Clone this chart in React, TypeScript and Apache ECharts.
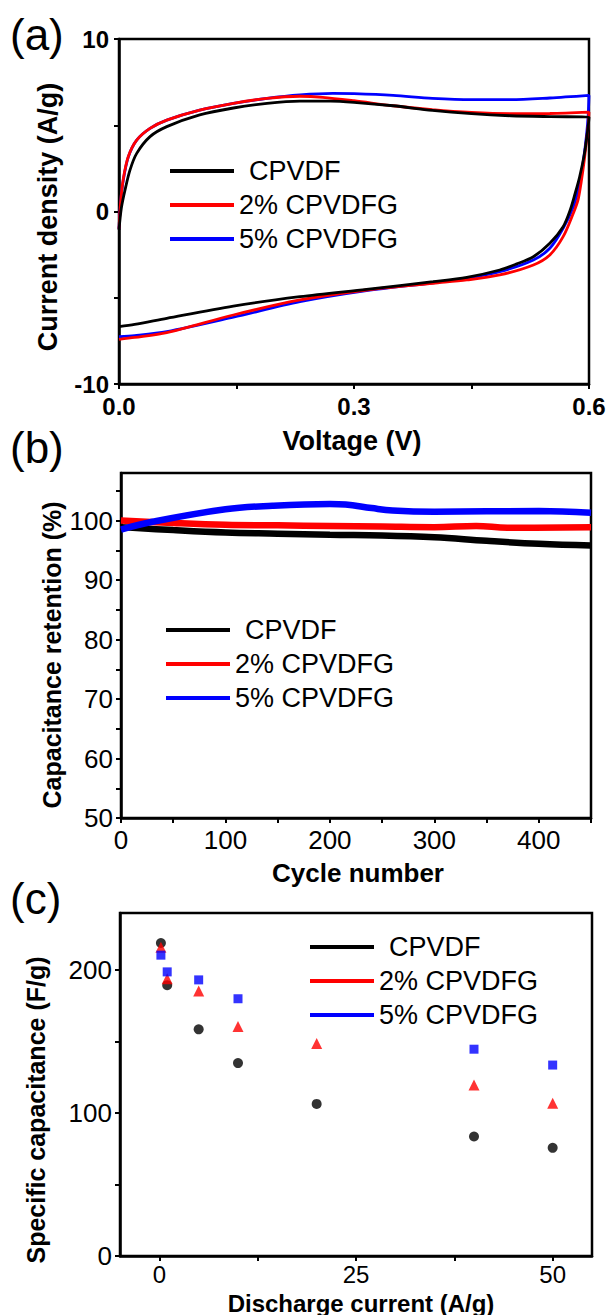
import { useEffect, useRef } from "react";
import * as echarts from "echarts";

const NAMES = ["CPVDF", "2% CPVDFG", "5% CPVDFG"];
const COLORS = ["#000000", "#ff0000", "#0000ff"];

// ---------- (a) CV curves: [voltage V, current density A/g] ----------
const cvUpCPVDF: [number, number][] = [
  [0, -1.06], [0.003, 0.2], [0.0077, 1.25], [0.014, 2.4], [0.0226, 3.37], [0.0396, 4.34],
  [0.061, 4.92], [0.103, 5.6], [0.146, 6.0], [0.189, 6.27], [0.231, 6.4], [0.27, 6.4],
  [0.3, 6.33], [0.35, 6.13], [0.4, 5.86], [0.45, 5.67], [0.5, 5.55], [0.55, 5.5], [0.6, 5.47],
];
const cvDownCPVDF: [number, number][] = [
  [0.598, 4.6], [0.594, 3.3], [0.588, 2.0], [0.582, 1.0], [0.576, 0.09], [0.567, -0.88],
  [0.55, -1.84], [0.529, -2.62], [0.507, -3.05], [0.486, -3.39], [0.444, -3.82], [0.401, -4.07],
  [0.316, -4.51], [0.231, -4.94], [0.146, -5.48], [0.061, -6.19], [0.02, -6.55], [0, -6.68],
];
const cvUp2: [number, number][] = [
  [0, -1.0], [0.002, 0.5], [0.0055, 1.9], [0.012, 3.2], [0.0226, 4.14], [0.0396, 4.82],
  [0.061, 5.3], [0.103, 5.88], [0.146, 6.27], [0.189, 6.56], [0.231, 6.68], [0.26, 6.62],
  [0.3, 6.42], [0.35, 6.13], [0.4, 5.9], [0.45, 5.74], [0.5, 5.67], [0.55, 5.68], [0.6, 5.76],
];
const cvDown2: [number, number][] = [
  [0.599, 5.0], [0.597, 4.2], [0.594, 3.0], [0.59, 1.7], [0.586, 0.67], [0.58, -0.1],
  [0.567, -1.46], [0.55, -2.52], [0.529, -3.1], [0.486, -3.68], [0.444, -3.97], [0.401, -4.16],
  [0.316, -4.55], [0.231, -5.13], [0.146, -6.0], [0.061, -7.02], [0.02, -7.3], [0, -7.41],
];
const cvUp5: [number, number][] = [
  [0, -1.0], [0.002, 0.5], [0.0055, 1.83], [0.012, 3.18], [0.0226, 4.14], [0.0396, 4.82],
  [0.061, 5.3], [0.103, 5.88], [0.146, 6.27], [0.189, 6.56], [0.231, 6.76], [0.273, 6.85],
  [0.3, 6.83], [0.35, 6.73], [0.4, 6.56], [0.45, 6.48], [0.5, 6.48], [0.55, 6.58], [0.6, 6.73],
];
const cvDown5: [number, number][] = [
  [0.599, 5.6], [0.597, 4.5], [0.593, 3.0], [0.588, 1.6], [0.58, 0.28], [0.567, -0.97],
  [0.55, -2.13], [0.529, -2.81], [0.486, -3.49], [0.444, -3.87], [0.401, -4.13], [0.316, -4.59],
  [0.231, -5.23], [0.146, -6.13], [0.061, -6.97], [0.02, -7.2], [0, -7.26],
];

// ---------- (b) cycling: [cycle, retention %] ----------
const cycCPVDF: [number, number][] = [
  [0, 98.9], [50, 98.4], [100, 98.0], [150, 97.8], [200, 97.6], [250, 97.5],
  [300, 97.2], [350, 96.6], [400, 96.1], [450, 95.8],
];
const cyc2: [number, number][] = [
  [0, 100], [50, 99.6], [100, 99.3], [150, 99.2], [200, 99.1], [250, 99.0],
  [300, 98.9], [340, 99.1], [370, 98.8], [450, 98.9],
];
const cyc5: [number, number][] = [
  [0, 98.5], [30, 99.8], [100, 101.9], [145, 102.5], [200, 102.8], [215, 102.7],
  [240, 102.1], [260, 101.7], [300, 101.5], [400, 101.6], [450, 101.3],
];

// ---------- (c) rate: [discharge current A/g, specific capacitance F/g] ----------
const rateCPVDF: [number, number][] = [
  [0.2, 219], [1, 189.5], [5, 158.6], [10, 135], [20, 106.4], [40, 83.6], [50, 75.7],
];
const rate2: [number, number][] = [
  [0.2, 216], [1, 194], [5, 185.4], [10, 160.5], [20, 148.7], [40, 119.6], [50, 106.8],
];
const rate5: [number, number][] = [
  [0.2, 210.5], [1, 198.8], [5, 193.2], [10, 180], [40, 144.7], [50, 133.6],
];

// ---------- axes ticks ----------
const aXTicks = [0, 0.15, 0.3, 0.45, 0.6];
const aXLabels = [0, 0.3, 0.6];
const aYTicks = [-10, -5, 0, 5, 10];
const aYLabels = [-10, 0, 10];
const bXTicks = [0, 50, 100, 150, 200, 250, 300, 350, 400, 450];
const bXLabels = [0, 100, 200, 300, 400];
const bYTicks = [50, 55, 60, 65, 70, 75, 80, 85, 90, 95, 100, 105];
const bYLabels = [50, 60, 70, 80, 90, 100];
const cXTicks = [0, 12.5, 25, 37.5, 50];
const cXLabels = [0, 25, 50];
const cYTicks = [0, 50, 100, 150, 200];
const cYLabels = [0, 100, 200];

const FONT = "'Liberation Sans', Arial, Helvetica, sans-serif";

function axis(
  kind: "x" | "y",
  grid: number,
  min: number,
  max: number,
  ticks: number[],
  labels: number[],
  labelSize: number,
  bold: boolean,
  margin: number,
  fmt?: (v: number) => string
) {
  return {
    type: "value",
    gridIndex: grid,
    min,
    max,
    axisLine: { show: true, onZero: false, lineStyle: { color: "#000", width: 2.5 } },
    axisTick: {
      show: true,
      inside: false,
      length: 5,
      lineStyle: { color: "#000", width: 2 },
      customValues: ticks,
    },
    axisLabel: {
      show: true,
      customValues: labels,
      color: "#000",
      fontSize: labelSize,
      fontWeight: bold ? "bold" : "normal",
      fontFamily: FONT,
      margin,
      formatter: fmt ? (v: number) => fmt(v) : (v: number) => String(v),
    },
    splitLine: { show: false },
    ...(kind === "x" ? { position: "bottom" } : { position: "left" }),
  };
}

function legendFor(left: number, top: number, size: number) {
  return {
    orient: "vertical",
    left,
    top,
    padding: 0,
    itemWidth: 64,
    itemHeight: 4,
    itemGap: 0,
    selectedMode: false,
    textStyle: {
      fontSize: size,
      fontFamily: FONT,
      color: "#000",
      lineHeight: 34,
      rich: {
        t: { fontSize: size, fontFamily: FONT, color: "#000", padding: [0, 0, 0, 10], lineHeight: 34 },
      },
    },
    formatter: (n: string) => (n === "CPVDF" ? `{t|${n}}` : n),
    data: NAMES.map((n, i) => ({ name: n, icon: "rect", itemStyle: { color: COLORS[i] } })),
  };
}

function titleText(text: string, x: number, y: number, size: number, vertical: boolean) {
  return {
    type: "text",
    x,
    y,
    rotation: vertical ? Math.PI / 2 : 0,
    style: {
      text,
      fill: "#000",
      font: `bold ${size}px ${FONT}`,
      textAlign: "center",
      textVerticalAlign: "middle",
    },
  };
}

function letter(text: string, x: number, y: number) {
  return {
    type: "text",
    x,
    y,
    style: { text, fill: "#000", font: `44px ${FONT}`, textAlign: "left", textVerticalAlign: "middle" },
  };
}

export default function App() {
  const ref = useRef<HTMLDivElement>(null);
  useEffect(() => {
    if (!ref.current) return;
    const chart = echarts.init(ref.current, undefined, { renderer: "svg" });
    const gridBase = { show: true, borderColor: "#000", borderWidth: 2.5, containLabel: false };
    const cvSeries = [
      [...cvUpCPVDF, ...cvDownCPVDF],
      [...cvUp2, ...cvDown2],
      [...cvUp5, ...cvDown5],
    ];
    const cycSeries = [cycCPVDF, cyc2, cyc5];
    const rateSeries = [rateCPVDF, rate2, rate5];
    const symbols = ["circle", "triangle", "rect"];
    const symSizes = [10, 11, 9];

    const option: any = {
      animation: false,
      backgroundColor: "#fff",
      grid: [
        { ...gridBase, left: 119, top: 39, width: 470, height: 345 },
        { ...gridBase, left: 121, top: 473, width: 470, height: 345 },
        { ...gridBase, left: 120, top: 913, width: 472, height: 343 },
      ],
      xAxis: [
        axis("x", 0, 0, 0.6, aXTicks, aXLabels, 24, true, 10, (v) => v.toFixed(1)),
        axis("x", 1, 0, 450, bXTicks, bXLabels, 26, false, 9),
        axis("x", 2, -5, 55, cXTicks, cXLabels, 24, false, 6),
      ],
      yAxis: [
        axis("y", 0, -10, 10, aYTicks, aYLabels, 24, true, 10),
        axis("y", 1, 50, 108, bYTicks, bYLabels, 26, false, 8),
        axis("y", 2, 0, 240, cYTicks, cYLabels, 26, false, 8),
      ],
      legend: [legendFor(170, 154, 27), legendFor(166, 613, 27), legendFor(310, 930, 27)],
      graphic: [
        letter("(a)", 10, 34),
        letter("(b)", 10, 447),
        letter("(c)", 10, 898),
        titleText("Current density (A/g)", 48, 217, 27, true),
        titleText("Voltage (V)", 352, 441, 27, false),
        titleText("Capacitance retention (%)", 52, 655, 25, true),
        titleText("Cycle number", 358, 873, 26, false),
        titleText("Specific capacitance (F/g)", 36, 1110, 25, true),
        titleText("Discharge current (A/g)", 361, 1303, 24, false),
      ],
      series: [
        ...cvSeries.map((d, i) => ({
          type: "line",
          name: NAMES[i],
          xAxisIndex: 0,
          yAxisIndex: 0,
          data: d,
          smooth: 0.3,
          showSymbol: false,
          lineStyle: { color: COLORS[i], width: 2.8 },
          itemStyle: { color: COLORS[i] },
          z: 3 - i,
        })),
        ...cycSeries.map((d, i) => ({
          type: "line",
          name: NAMES[i],
          xAxisIndex: 1,
          yAxisIndex: 1,
          data: d,
          smooth: 0.4,
          showSymbol: false,
          lineStyle: { color: COLORS[i], width: 6.5 },
          itemStyle: { color: COLORS[i] },
        })),
        ...rateSeries.map((d, i) => ({
          type: "scatter",
          name: NAMES[i],
          xAxisIndex: 2,
          yAxisIndex: 2,
          data: d,
          symbol: symbols[i],
          symbolSize: symSizes[i],
          itemStyle: { color: COLORS[i] },
        })),
      ],
    };
    chart.setOption(option);
    return () => chart.dispose();
  }, []);
  return (
    <div
      ref={ref}
      style={{ position: "fixed", left: 0, top: 0, width: 611, height: 1315, background: "#fff" }}
    />
  );
}
